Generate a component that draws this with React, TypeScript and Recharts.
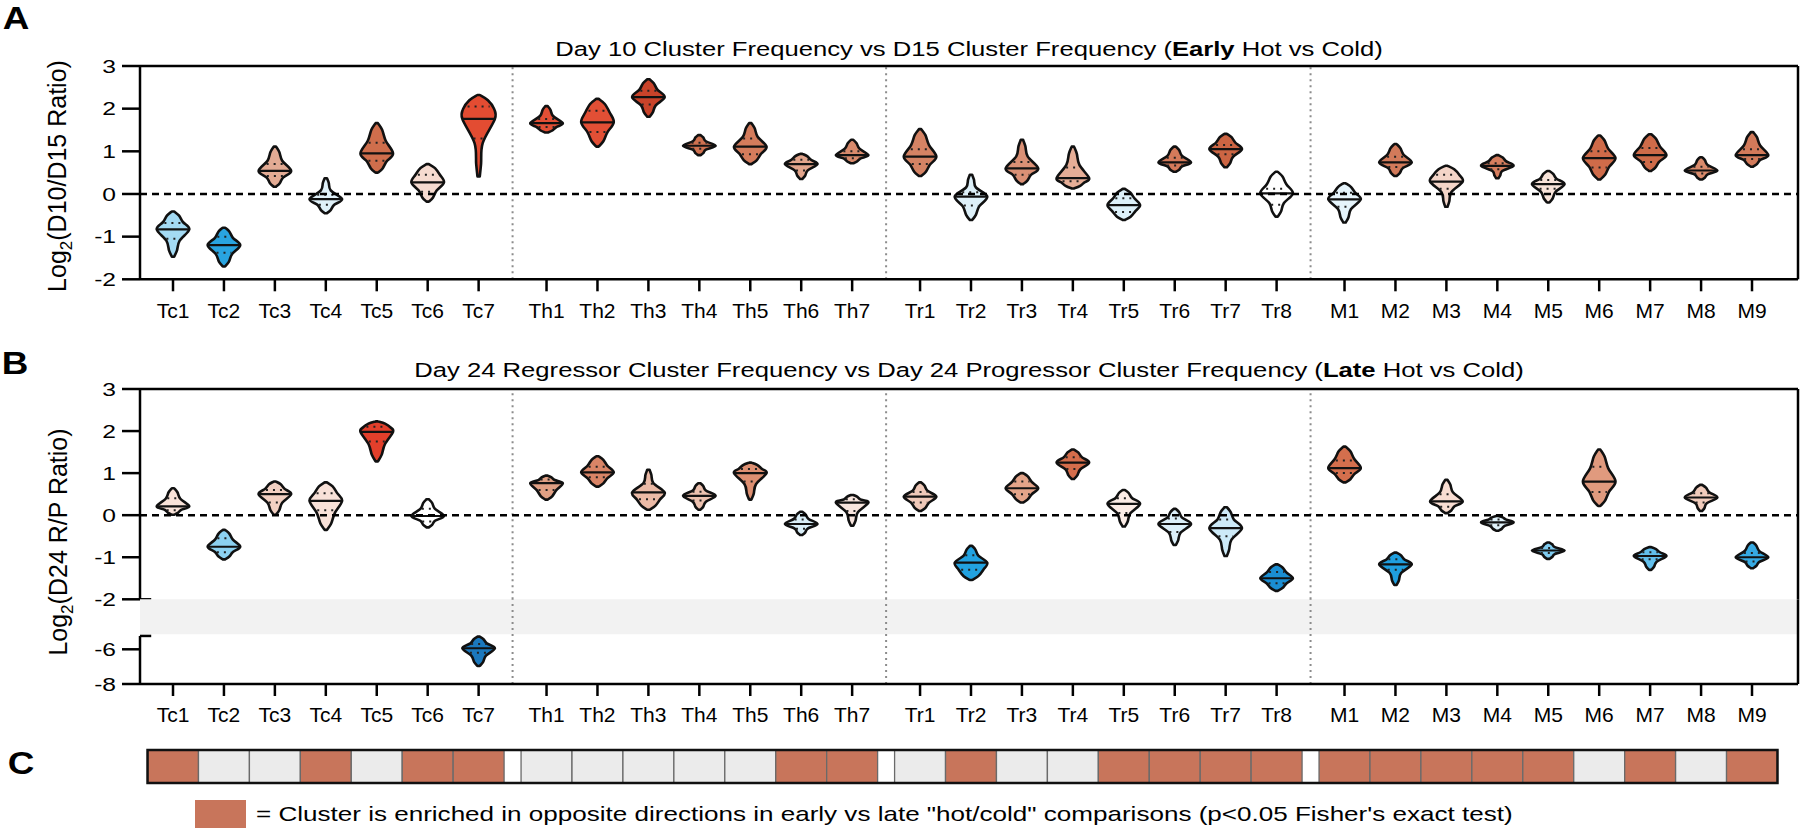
import React from 'react';
import { ComposedChart, XAxis, YAxis, Scatter, ReferenceArea, ReferenceLine } from 'recharts';

const FONT = '"Liberation Sans", Arial, Helvetica, sans-serif';

// ---- categories ----
const CLUSTERS = ['Tc1','Tc2','Tc3','Tc4','Tc5','Tc6','Tc7','Th1','Th2','Th3','Th4','Th5','Th6','Th7','Tr1','Tr2','Tr3','Tr4','Tr5','Tr6','Tr7','Tr8','M1','M2','M3','M4','M5','M6','M7','M8','M9'];
const GROUP_SIZES = [7, 7, 8, 9];

// ---- Panel A (Log2 D10/D15) ----
const A_LO = [-1.47,-1.70,0.17,-0.45,0.50,-0.18,0.41, 1.44,1.11,1.81,0.91,0.70,0.35,0.72, 0.42,-0.61,0.23,0.13,-0.61,0.52,0.625,-0.53, -0.67,0.42,-0.30,0.37,-0.20,0.34,0.54,0.34,0.64];
const A_Q1 = [-1.05,-1.38,0.42,-0.25,0.78,0.05,1.30, 1.57,1.45,2.10,1.06,0.93,0.55,0.84, 0.70,-0.27,0.45,0.30,-0.42,0.67,0.93,-0.25, -0.30,0.63,0.12,0.58,0.12,0.62,0.75,0.48,0.82];
const A_MED = [-0.83,-1.20,0.54,-0.12,0.95,0.27,1.76, 1.66,1.68,2.27,1.13,1.11,0.70,0.91, 0.875,-0.06,0.60,0.37,-0.26,0.74,1.05,0.016, -0.125,0.74,0.29,0.66,0.23,0.84,0.91,0.55,0.91];
const A_Q3 = [-0.68,-1.00,0.70,-0.02,1.20,0.45,2.05, 1.76,1.95,2.42,1.20,1.30,0.80,1.00, 1.05,0.04,0.75,0.62,-0.10,0.85,1.15,0.12, 0.03,0.87,0.45,0.72,0.33,1.00,1.08,0.64,1.05];
const A_HI = [-0.41,-0.79,1.11,0.37,1.66,0.70,2.32, 2.06,2.23,2.69,1.38,1.66,0.94,1.27, 1.52,0.45,1.27,1.11,0.12,1.11,1.41,0.52, 0.25,1.17,0.66,0.91,0.54,1.37,1.40,0.86,1.45];
const A_TOP = [.6,.55,.45,.3,.55,.75,.95, .4,.75,.55,.4,.45,.6,.45, .55,.3,.35,.4,.65,.45,.6,.6, .65,.5,.8,.55,.5,.55,.6,.4,.5];
const A_BOT = [.4,.5,.5,.5,.6,.55,.25, .6,.6,.45,.4,.65,.4,.5, .6,.5,.55,.7,.7,.45,.45,.45, .4,.45,.3,.3,.45,.6,.55,.4,.5];
const A_FILL = ['#a3daf3','#29a4e0','#e3ab94','#dff1f9','#cf6e4c','#f6dbd0','#e34c32', '#e24f35','#e24f35','#c9432a','#cf7150','#d47c5c','#e2a58c','#d88a6c', '#d58364','#ddf0f9','#da9075','#e6ae97','#dcf0f9','#d47a5a','#cc6543','#ffffff', '#e5f4fb','#d27a5a','#f4d5c8','#d67e5e','#f9e4da','#cf6b49','#cf6b49','#d98a6b','#d27a5a'];

// ---- Panel B (Log2 D24 R/P) ----
const B_LO = [0.01,-1.05,0.01,-0.35,1.28,-0.29,-6.96, 0.37,0.68,0.13,0.13,0.37,-0.47,-0.25, 0.10,-1.54,0.30,0.86,-0.27,-0.71,-0.97,-1.80, 0.78,-1.66,0.05,-0.37,-1.04,0.22,-1.30,0.10,-1.26];
const B_Q1 = [0.12,-0.88,0.30,0.12,1.75,-0.15,-6.2, 0.60,0.90,0.38,0.35,0.80,-0.32,0.10, 0.30,-1.30,0.50,1.10,0.05,-0.40,-0.50,-1.62, 1.00,-1.30,0.20,-0.24,-0.90,0.55,-1.05,0.30,-1.10];
const B_MED = [0.21,-0.75,0.50,0.34,1.98,-0.02,-5.94, 0.76,1.02,0.54,0.46,1.00,-0.21,0.30, 0.44,-1.13,0.64,1.25,0.27,-0.21,-0.31,-1.50, 1.12,-1.17,0.33,-0.17,-0.84,0.80,-0.97,0.42,-1.00];
const B_Q3 = [0.40,-0.55,0.60,0.52,2.10,0.15,-5.7, 0.85,1.15,0.75,0.56,1.10,-0.10,0.38, 0.55,-0.95,0.80,1.38,0.40,-0.08,-0.10,-1.35, 1.30,-1.05,0.50,-0.10,-0.78,1.15,-0.88,0.52,-0.90];
const B_HI = [0.64,-0.35,0.80,0.78,2.23,0.38,-5.27, 0.94,1.40,1.08,0.76,1.25,0.08,0.48, 0.78,-0.73,1.00,1.56,0.60,0.15,0.19,-1.17, 1.63,-0.89,0.84,-0.02,-0.65,1.56,-0.76,0.72,-0.65];
const B_TOP = [.45,.55,.6,.7,.85,.45,.5, .5,.6,.3,.4,.7,.45,.5, .45,.45,.6,.55,.5,.45,.5,.6, .6,.55,.4,.55,.4,.55,.6,.5,.45];
const B_BOT = [.5,.55,.45,.55,.5,.45,.45, .6,.6,.7,.4,.35,.4,.35, .55,.75,.6,.45,.4,.35,.35,.6, .6,.35,.5,.45,.4,.6,.4,.35,.45];
const B_FILL = ['#fae3d9','#8cd1f1','#f2d0c2','#f8e1d8','#e23f2b','#ffffff','#1b78bd', '#e0a084','#d98466','#ebbaa6','#ecc1af','#dd8f71','#d9eef8','#f8e5de', '#efc8b8','#22a2e0','#e4a489','#d46d4b','#fbece6','#dbeff9','#cdeaf8','#1a8ed3', '#d46f4d','#1f9fdf','#f8ddd2','#e0f2fa','#7fcbef','#e09a7e','#62bfec','#f1cbbb','#36aae3'];

// ---- Panel C (1 = enriched in opposite directions) ----
const C_ENRICHED = [1,0,0,1,0,1,1, 0,0,0,0,0,1,1, 0,1,0,0,1,1,1,1, 1,1,1,1,1,0,1,0,1];

const A_TICKS = [-2, -1, 0, 1, 2, 3];
const B_UP_TICKS = [-2, -1, 0, 1, 2, 3];
const B_LOW_TICKS = [-8, -6];

// ---- layout helpers ----
const GROUP_IDX: number[] = [];
GROUP_SIZES.forEach((n, g) => { for (let k = 0; k < n; k++) GROUP_IDX.push(g); });
const POS = CLUSTERS.map((_, i) => i + 1 + GROUP_IDX[i] / 3);
const SEPS: number[] = [];
for (let i = 1; i < POS.length; i++) if (GROUP_IDX[i] !== GROUP_IDX[i - 1]) SEPS.push((POS[i] + POS[i - 1]) / 2);
const XMIN = 0.352;
const XMAX = 32.903;
const HW = 0.32;
const ORANGE = '#c8755b';

type V = { lo: number; q1: number; med: number; q3: number; hi: number; tw: number; bw: number };

function cr(pts: number[][]) {
  let d = '';
  for (let i = 0; i < pts.length - 1; i++) {
    const p0 = pts[i - 1] || pts[i];
    const p1 = pts[i];
    const p2 = pts[i + 1];
    const p3 = pts[i + 2] || pts[i + 1];
    const c1x = p1[0] + (p2[0] - p0[0]) / 6, c1y = p1[1] + (p2[1] - p0[1]) / 6;
    const c2x = p2[0] - (p3[0] - p1[0]) / 6, c2y = p2[1] - (p3[1] - p1[1]) / 6;
    d += ` C${c1x.toFixed(2)},${c1y.toFixed(2)} ${c2x.toFixed(2)},${c2y.toFixed(2)} ${p2[0].toFixed(2)},${p2[1].toFixed(2)}`;
  }
  return d;
}

function violinShape(v: V, fill: string) {
  return (p: any) => {
    const { x, y, width, height } = p;
    if (![x, y, width, height].every((n) => Number.isFinite(n))) return <g />;
    const cx = x + width / 2;
    const W = width / 2;
    const py = (val: number) => y + ((v.hi - val) / (v.hi - v.lo)) * height;
    const knots: [number, number][] = [
      [v.hi, 0.07],
      [v.med + 0.78 * (v.hi - v.med), v.tw * 0.6],
      [v.med + 0.42 * (v.hi - v.med), v.tw],
      [v.med, 1],
      [v.lo + 0.58 * (v.med - v.lo), v.bw],
      [v.lo + 0.22 * (v.med - v.lo), v.bw * 0.6],
      [v.lo, 0.07],
    ];
    const widthAt = (val: number) => {
      for (let i = 0; i < knots.length - 1; i++) {
        const [a, fa] = knots[i];
        const [b, fb] = knots[i + 1];
        if (val <= a && val >= b) return fa + ((a - val) / (a - b || 1)) * (fb - fa);
      }
      return 0.3;
    };
    const right = knots.map(([val, f]) => [cx + f * W, py(val)]);
    const left = knots.slice().reverse().map(([val, f]) => [cx - f * W, py(val)]);
    const d = `M${right[0][0]},${right[0][1]}${cr(right)} L${left[0][0]},${left[0][1]}${cr(left)} Z`;
    const qLine = (q: number) => {
      const hw = widthAt(q) * W * 0.8;
      return <line x1={cx - hw} x2={cx + hw} y1={py(q)} y2={py(q)} stroke="#222" strokeWidth={2} strokeDasharray="2 5" />;
    };
    return (
      <g>
        <path d={d} fill={fill} stroke="#111" strokeWidth={2.6} strokeLinejoin="round" />
        {qLine(v.q1)}
        {qLine(v.q3)}
        <line x1={cx - W} x2={cx + W} y1={py(v.med)} y2={py(v.med)} stroke="#111" strokeWidth={2.2} />
      </g>
    );
  };
}

function violins(lo: number[], q1: number[], med: number[], q3: number[], hi: number[], tw: number[], bw: number[], fill: string[], keep: (i: number) => boolean) {
  return CLUSTERS.map((c, i) => {
    if (!keep(i)) return null;
    const v: V = { lo: lo[i], q1: q1[i], med: med[i], q3: q3[i], hi: hi[i], tw: tw[i], bw: bw[i] };
    return (
      <ReferenceArea
        key={c}
        x1={POS[i] - HW}
        x2={POS[i] + HW}
        y1={lo[i]}
        y2={hi[i]}
        ifOverflow="visible"
        shape={violinShape(v, fill[i])}
      />
    );
  });
}

const tickName = (val: number) => {
  const k = POS.findIndex((p) => Math.abs(p - val) < 1e-6);
  return k >= 0 ? CLUSTERS[k] : '';
};

const AXIS = { stroke: '#000', strokeWidth: 2.5 };
const XTICK = { fontSize: 21, fill: '#000', fontFamily: FONT };

const YTickStretched = (props: any) => {
  const { x, y, payload } = props;
  return (
    <g transform={`translate(${x},${y})`}>
      <text transform="scale(1.33,1)" textAnchor="end" dy="0.36em" fontSize={18.5} fontFamily={FONT} fill="#000">
        {payload && payload.value}
      </text>
    </g>
  );
};

const sepLines = (key: string) =>
  SEPS.map((s) => <ReferenceLine key={key + s} x={s} stroke="#8c8c8c" strokeWidth={2} strokeDasharray="2 4" />);

const medPoints = (med: number[], keep: (i: number) => boolean) =>
  CLUSTERS.map((c, i) => ({ x: POS[i], y: med[i], name: c })).filter((_, i) => keep(i));

const emptyShape = () => <g />;

function PanelA() {
  return (
    <ComposedChart width={1800} height={340} margin={{ top: 66, right: 2, bottom: 20.7, left: 80 }}>
      <XAxis type="number" dataKey="x" domain={[XMIN, XMAX]} allowDataOverflow ticks={POS} interval={0} tickFormatter={tickName}
        tick={XTICK} tickLine={AXIS} axisLine={AXIS} tickSize={12} tickMargin={12} height={40} />
      <YAxis type="number" dataKey="y" domain={[-2, 3]} allowDataOverflow ticks={A_TICKS} interval={0}
        tick={YTickStretched} tickLine={AXIS} axisLine={AXIS} tickSize={18} tickMargin={6} width={60} />
      {sepLines('a')}
      <ReferenceLine y={0} stroke="#000" strokeWidth={2.5} strokeDasharray="7 5" />
      {violins(A_LO, A_Q1, A_MED, A_Q3, A_HI, A_TOP, A_BOT, A_FILL, () => true)}
      <ReferenceLine y={3} stroke="#000" strokeWidth={2.5} />
      <ReferenceLine x={XMAX} stroke="#000" strokeWidth={2.5} />
      <Scatter data={medPoints(A_MED, () => true)} shape={emptyShape} isAnimationActive={false} />
    </ComposedChart>
  );
}

const inUpper = (i: number) => B_LO[i] > -3;
const inLower = (i: number) => B_LO[i] <= -3;
const BAND_LOW = -5.135;
const LOWER_TOP = -3.118;
const BREAK = -5.23;

function PanelBUpper() {
  return (
    <ComposedChart width={1800} height={290} margin={{ top: 49, right: 2, bottom: 30.7, left: 80 }}>
      <XAxis type="number" dataKey="x" domain={[XMIN, XMAX]} allowDataOverflow hide />
      <YAxis type="number" dataKey="y" domain={[-2, 3]} allowDataOverflow ticks={B_UP_TICKS} interval={0}
        tick={YTickStretched} tickLine={AXIS} axisLine={AXIS} tickSize={18} tickMargin={6} width={60} />
      {sepLines('bu')}
      <ReferenceLine y={0} stroke="#000" strokeWidth={2.5} strokeDasharray="7 5" />
      {violins(B_LO, B_Q1, B_MED, B_Q3, B_HI, B_TOP, B_BOT, B_FILL, inUpper)}
      <ReferenceLine y={3} stroke="#000" strokeWidth={2.5} />
      <ReferenceLine x={XMAX} stroke="#000" strokeWidth={2.5} />
      <ReferenceLine segment={[{ x: XMIN, y: -2 }, { x: XMIN + 0.22, y: -2 }]} stroke="#000" strokeWidth={2.5} />
      <Scatter data={medPoints(B_MED, inUpper)} shape={emptyShape} isAnimationActive={false} />
    </ComposedChart>
  );
}

function PanelBLower() {
  return (
    <ComposedChart width={1800} height={141} margin={{ top: 9.3, right: 2, bottom: 7, left: 80 }}>
      <XAxis type="number" dataKey="x" domain={[XMIN, XMAX]} allowDataOverflow ticks={POS} interval={0} tickFormatter={tickName}
        tick={XTICK} tickLine={AXIS} axisLine={AXIS} tickSize={12} tickMargin={11} height={40} />
      <YAxis type="number" dataKey="y" domain={[-8, LOWER_TOP]} allowDataOverflow ticks={B_LOW_TICKS} interval={0}
        tick={YTickStretched} tickLine={AXIS} axisLine={false} tickSize={18} tickMargin={6} width={60} />
      <ReferenceArea x1={XMIN} x2={XMAX} y1={BAND_LOW} y2={LOWER_TOP} fill="#f2f2f2" fillOpacity={1} stroke="none" />
      {sepLines('bl')}
      {violins(B_LO, B_Q1, B_MED, B_Q3, B_HI, B_TOP, B_BOT, B_FILL, inLower)}
      <ReferenceLine segment={[{ x: XMIN, y: -8 }, { x: XMIN, y: BREAK }]} stroke="#000" strokeWidth={2.5} />
      <ReferenceLine segment={[{ x: XMIN, y: BREAK }, { x: XMIN + 0.22, y: BREAK }]} stroke="#000" strokeWidth={2.5} />
      <ReferenceLine x={XMAX} stroke="#000" strokeWidth={2.5} />
      <Scatter data={medPoints(B_MED, inLower)} shape={emptyShape} isAnimationActive={false} />
    </ComposedChart>
  );
}

function PanelC() {
  return (
    <ComposedChart width={1800} height={50} margin={{ top: 10, right: 2, bottom: 7, left: 140 }}>
      <XAxis type="number" dataKey="x" domain={[XMIN, XMAX]} allowDataOverflow hide />
      <YAxis type="number" dataKey="y" domain={[0, 1]} allowDataOverflow hide />
      <ReferenceArea x1={POS[0] - 0.5} x2={POS[POS.length - 1] + 0.5} y1={0} y2={1} fill="#fff" fillOpacity={1} stroke="none" />
      {CLUSTERS.map((c, i) => (
        <ReferenceArea key={c} x1={POS[i] - 0.5} x2={POS[i] + 0.5} y1={0} y2={1}
          fill={C_ENRICHED[i] ? ORANGE : '#ebebeb'} fillOpacity={1} stroke="#6a6a6a" strokeWidth={1.3} />
      ))}
      <ReferenceArea x1={POS[0] - 0.5} x2={POS[POS.length - 1] + 0.5} y1={0} y2={1} fill="none" stroke="#111" strokeWidth={2.5} />
      <Scatter data={CLUSTERS.map((c, i) => ({ x: POS[i], y: 0.5, name: c }))} shape={emptyShape} isAnimationActive={false} />
    </ComposedChart>
  );
}

const abs = (left: number, top: number, extra: React.CSSProperties = {}): React.CSSProperties => ({ position: 'absolute', left, top, ...extra });
const centered = (cx: number, cy: number, extra: React.CSSProperties = {}, tf = ''): React.CSSProperties => ({
  position: 'absolute', left: cx, top: cy, transform: `translate(-50%, -50%) ${tf}`, whiteSpace: 'nowrap', lineHeight: 1, ...extra,
});

export default function App() {
  return (
    <div style={{ position: 'absolute', left: 0, top: 0, width: 1800, height: 831, background: '#fff', fontFamily: FONT, color: '#000', overflow: 'hidden' }}>
      <div style={abs(0, 0)}><PanelA /></div>
      <div style={abs(0, 340)}><PanelBUpper /></div>
      <div style={abs(0, 590)}><PanelBLower /></div>
      <div style={abs(0, 740)}><PanelC /></div>

      <div style={centered(16, 18, { fontSize: 32, fontWeight: 700 }, 'scaleX(1.15)')}>A</div>
      <div style={centered(15, 363, { fontSize: 32, fontWeight: 700 }, 'scaleX(1.15)')}>B</div>
      <div style={centered(21, 763, { fontSize: 32, fontWeight: 700 }, 'scaleX(1.15)')}>C</div>

      <div style={centered(969, 49, { fontSize: 20.5 }, 'scaleX(1.25)')}>
        Day 10 Cluster Frequency vs D15 Cluster Frequency (<b>Early</b> Hot vs Cold)
      </div>
      <div style={centered(969, 370, { fontSize: 20.5 }, 'scaleX(1.25)')}>
        Day 24 Regressor Cluster Frequency vs Day 24 Progressor Cluster Frequency (<b>Late</b> Hot vs Cold)
      </div>

      <div style={centered(60, 176, { fontSize: 25 }, 'rotate(-90deg)')}>
        Log<sub style={{ fontSize: 17 }}>2</sub>(D10/D15 Ratio)
      </div>
      <div style={centered(61, 542, { fontSize: 25 }, 'rotate(-90deg)')}>
        Log<sub style={{ fontSize: 17 }}>2</sub>(D24 R/P Ratio)
      </div>

      <div style={abs(195, 800, { width: 51, height: 28, background: ORANGE })} />
      <div style={abs(256, 800, { fontSize: 21, lineHeight: '28px', whiteSpace: 'nowrap', transform: 'scaleX(1.24)', transformOrigin: '0 50%' })}>
        = Cluster is enriched in opposite directions in early vs late "hot/cold" comparisons (p&lt;0.05 Fisher's exact test)
      </div>
    </div>
  );
}
